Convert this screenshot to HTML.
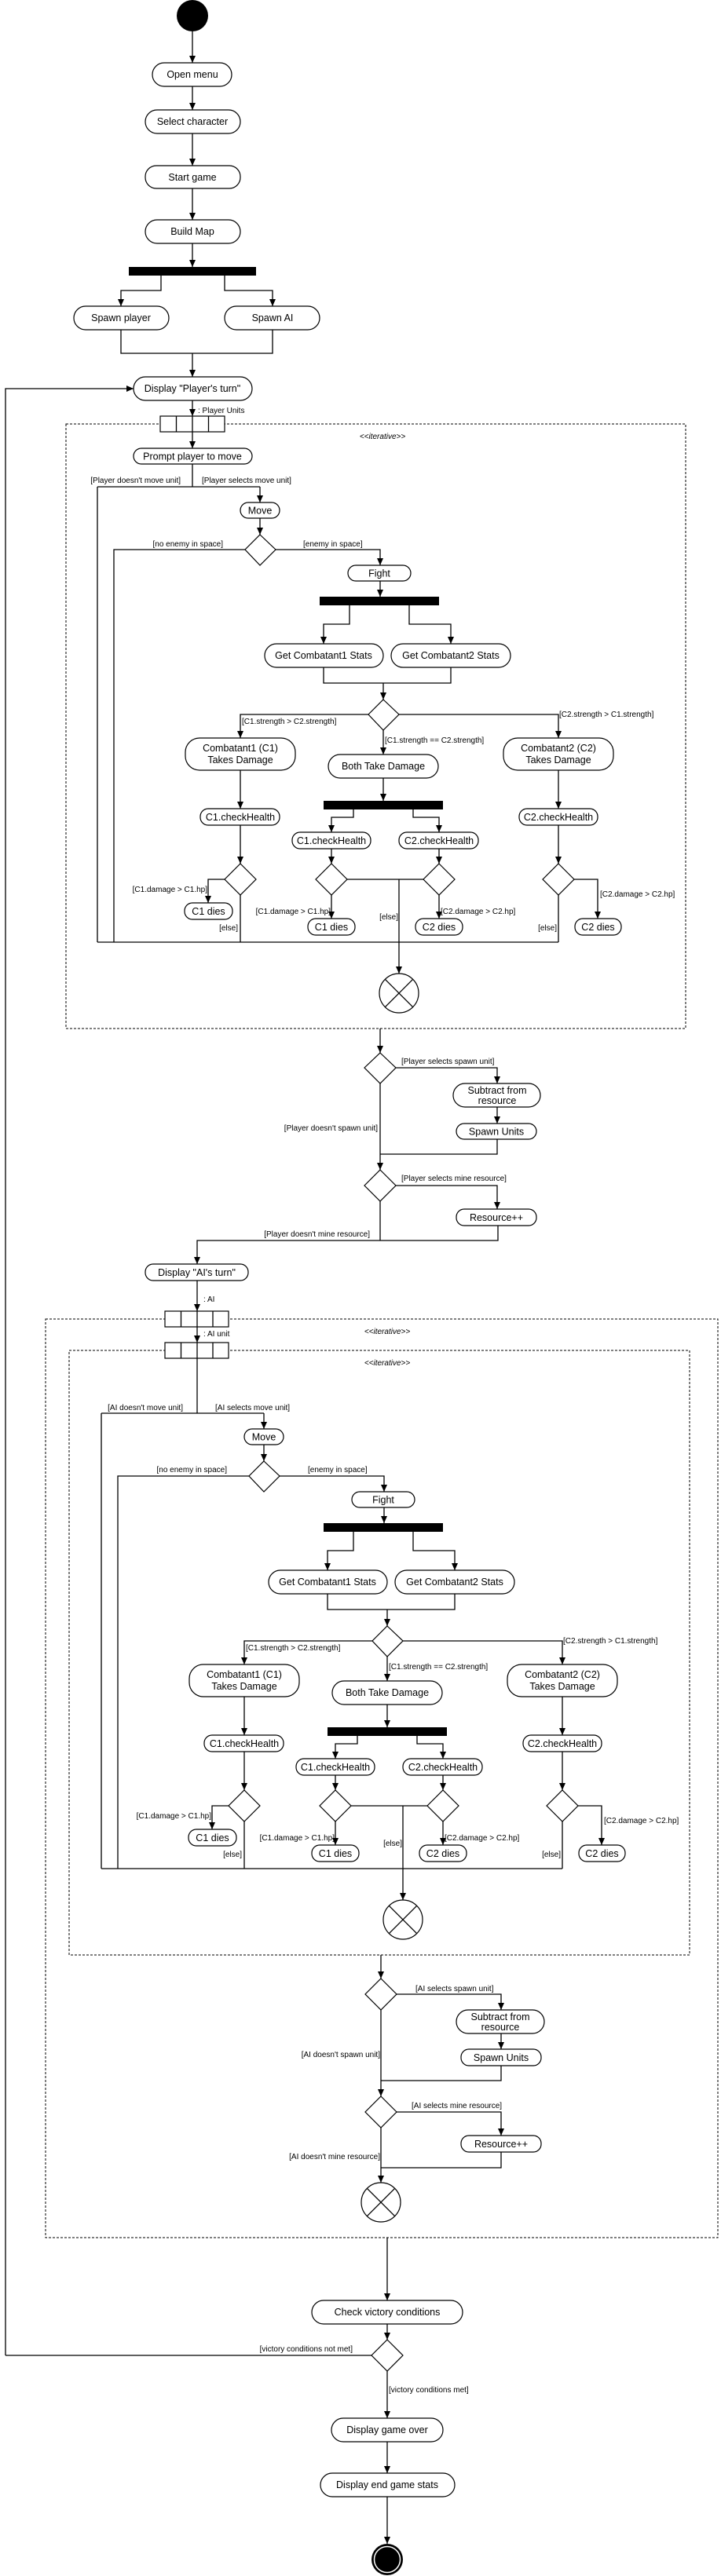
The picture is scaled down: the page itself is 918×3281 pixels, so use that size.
<!DOCTYPE html>
<html><head><meta charset="utf-8"><style>
html,body{margin:0;padding:0;background:#fff;}
svg{display:block;}
.n{fill:#fff;stroke:#000;stroke-width:1.2;}
.l{fill:none;stroke:#000;stroke-width:1.3;}
.a{fill:none;stroke:#000;stroke-width:1.3;marker-end:url(#ah);}
.d{fill:none;stroke:#000;stroke-width:1;stroke-dasharray:3,2;}
.t{font-family:"Liberation Sans",sans-serif;font-size:12.5px;text-anchor:middle;fill:#000;}
.g{font-family:"Liberation Sans Narrow","Liberation Sans",sans-serif;font-size:10px;fill:#000;}
.r{text-anchor:end;}
.i{font-family:"Liberation Sans Narrow","Liberation Sans",sans-serif;font-size:10px;font-style:italic;text-anchor:middle;}
</style></head><body>
<svg width="918" height="3281" viewBox="0 0 918 3281" xmlns="http://www.w3.org/2000/svg">
<defs><marker id="ah" markerUnits="userSpaceOnUse" markerWidth="10" markerHeight="10" refX="9" refY="4" orient="auto"><path d="M0,0 L9,4 L0,8 z" fill="#000"/></marker></defs>

<!-- dashed boxes -->
<rect class="d" x="84" y="540" width="789" height="770"/>
<rect class="d" x="58" y="1680" width="856" height="1170"/>
<rect class="d" x="88" y="1720" width="790" height="770"/>

<!-- top -->
<circle cx="245" cy="20" r="20" fill="#000"/>
<path class="a" d="M245,40V80"/>
<rect class="n" x="194" y="80" width="101" height="30" rx="15"/><text class="t" x="245" y="99">Open menu</text>
<path class="a" d="M245,110V140"/>
<rect class="n" x="185" y="140" width="121" height="30" rx="15"/><text class="t" x="245" y="159">Select character</text>
<path class="a" d="M245,170V211"/>
<rect class="n" x="185" y="211" width="121" height="29" rx="14"/><text class="t" x="245" y="230">Start game</text>
<path class="a" d="M245,240V280"/>
<rect class="n" x="185" y="280" width="121" height="30" rx="15"/><text class="t" x="245" y="299">Build Map</text>
<path class="a" d="M245,310V340"/>
<rect x="164" y="340" width="162" height="11" fill="#000"/>
<path class="a" d="M205,351V370H154V390"/>
<path class="a" d="M286,351V370H347V390"/>
<rect class="n" x="94" y="390" width="121" height="30" rx="15"/><text class="t" x="154" y="409">Spawn player</text>
<rect class="n" x="286" y="390" width="121" height="30" rx="15"/><text class="t" x="347" y="409">Spawn AI</text>
<path class="l" d="M154,420V450H347V420"/>
<path class="a" d="M245,450V480"/>
<path class="a" d="M7,3000V495H170"/>
<rect class="n" x="170" y="480" width="151" height="30" rx="15"/><text class="t" x="245" y="499">Display "Player's turn"</text>
<path class="a" d="M245,510V530"/>
<text class="g" x="252" y="526">: Player  Units</text>
<rect class="n" x="204" y="530" width="82" height="20"/>
<path class="l" d="M224.5,530V550M265.5,530V550M245,530V550"/>
<text class="i" x="487" y="559">&lt;&lt;iterative&gt;&gt;</text>
<path class="a" d="M245,550V571"/>
<rect class="n" x="170" y="571" width="151" height="20" rx="10"/><text class="t" x="245" y="585.5">Prompt player to move</text>
<path class="l" d="M245,591V620"/>
<text class="g r" x="230" y="615">[Player doesn't move unit]</text>
<text class="g" x="257" y="615">[Player selects move unit]</text>
<text class="g r" x="284" y="696">[no enemy in space]</text>
<text class="g" x="386" y="696">[enemy in space]</text>

<!-- fight block 1 -->
<g>
<path class="l" d="M124,620H331"/>
<path class="a" d="M331,620V640"/>
<path class="l" d="M124,620V1200"/>
<rect class="n" x="306" y="640" width="50" height="20" rx="10"/><text class="t" x="331" y="654.5">Move</text>
<path class="a" d="M331,660V681"/>
<polygon class="n" points="331,681 351,700 331,720 312,700"/>
<path class="l" d="M312,700H145V1200"/>
<path class="a" d="M351,700H484V720"/>
<rect class="n" x="443" y="720" width="80" height="20" rx="10"/><text class="t" x="483" y="734.5">Fight</text>
<path class="a" d="M484,740V760"/>
<rect x="407" y="760" width="152" height="11" fill="#000"/>
<path class="a" d="M445,771V795H412V820"/>
<path class="a" d="M521,771V795H574V820"/>
<rect class="n" x="337" y="820" width="151" height="30" rx="15"/><text class="t" x="412" y="839">Get Combatant1 Stats</text>
<rect class="n" x="498" y="820" width="152" height="30" rx="15"/><text class="t" x="574" y="839">Get Combatant2 Stats</text>
<path class="l" d="M412,850V870H574V850"/>
<path class="a" d="M488,870V891"/>
<polygon class="n" points="488,891 508,910 488,930 469,910"/>
<path class="a" d="M469,910H306V940"/>
<text class="g" x="308" y="922">[C1.strength &gt; C2.strength]</text>
<path class="a" d="M508,910H711V940"/>
<text class="g" x="712" y="913">[C2.strength &gt; C1.strength]</text>
<path class="a" d="M488,930V961"/>
<text class="g" x="490" y="946">[C1.strength == C2.strength]</text>
<rect class="n" x="236" y="940" width="140" height="41" rx="18"/><text class="t" x="306" y="957">Combatant1 (C1)</text><text class="t" x="306" y="972">Takes Damage</text>
<rect class="n" x="418" y="961" width="140" height="30" rx="15"/><text class="t" x="488" y="980">Both Take Damage</text>
<rect class="n" x="641" y="940" width="140" height="41" rx="18"/><text class="t" x="711" y="957">Combatant2 (C2)</text><text class="t" x="711" y="972">Takes Damage</text>
<path class="a" d="M306,981V1030"/>
<path class="a" d="M488,991V1020"/>
<path class="a" d="M711,981V1030"/>
<rect x="412" y="1020" width="152" height="11" fill="#000"/>
<path class="a" d="M450,1031V1041H422V1060"/>
<path class="a" d="M526,1031V1041H559V1060"/>
<rect class="n" x="255" y="1030" width="101" height="21" rx="10"/><text class="t" x="306" y="1045">C1.checkHealth</text>
<rect class="n" x="372" y="1060" width="100" height="21" rx="10"/><text class="t" x="422" y="1075">C1.checkHealth</text>
<rect class="n" x="508" y="1060" width="101" height="21" rx="10"/><text class="t" x="559" y="1075">C2.checkHealth</text>
<rect class="n" x="661" y="1030" width="100" height="21" rx="10"/><text class="t" x="711" y="1045">C2.checkHealth</text>
<path class="a" d="M306,1051V1100"/>
<path class="a" d="M422,1081V1100"/>
<path class="a" d="M559,1081V1100"/>
<path class="a" d="M711,1051V1100"/>
<polygon class="n" points="306,1100 326,1120 306,1140 286,1120"/>
<polygon class="n" points="422,1100 442,1120 422,1140 402,1120"/>
<polygon class="n" points="559,1100 579,1120 559,1140 539,1120"/>
<polygon class="n" points="711,1100 731,1120 711,1140 691,1120"/>
<path class="a" d="M286,1120H265V1150"/>
<text class="g r" x="264" y="1136">[C1.damage &gt; C1.hp]</text>
<rect class="n" x="235" y="1150" width="61" height="21" rx="10"/><text class="t" x="265.5" y="1165">C1 dies</text>
<path class="l" d="M306,1140V1200"/>
<text class="g r" x="303" y="1185">[else]</text>
<path class="a" d="M422,1140V1170"/>
<text class="g r" x="421" y="1164">[C1.damage &gt; C1.hp]</text>
<rect class="n" x="392" y="1170" width="60" height="21" rx="10"/><text class="t" x="422" y="1185">C1 dies</text>
<path class="l" d="M442,1120H539"/>
<path class="a" d="M508,1120V1240"/>
<text class="g r" x="507" y="1171">[else]</text>
<path class="a" d="M559,1140V1170"/>
<text class="g" x="561" y="1164">[C2.damage &gt; C2.hp]</text>
<rect class="n" x="529" y="1170" width="60" height="21" rx="10"/><text class="t" x="559" y="1185">C2 dies</text>
<path class="a" d="M731,1120H761V1170"/>
<text class="g" x="764" y="1142">[C2.damage &gt; C2.hp]</text>
<rect class="n" x="732" y="1170" width="59" height="21" rx="10"/><text class="t" x="761.5" y="1185">C2 dies</text>
<path class="l" d="M711,1140V1200"/>
<text class="g r" x="709" y="1185">[else]</text>
<path class="l" d="M124,1200H711"/>
<circle class="n" cx="508" cy="1265" r="25"/>
<path class="l" d="M490.3,1247.3L525.7,1282.7M525.7,1247.3L490.3,1282.7"/>
</g>

<!-- player spawn/mine -->
<path class="a" d="M484,1310V1341"/>
<polygon class="n" points="484,1341 504,1360 484,1380 464,1360"/>
<path class="a" d="M504,1360H633V1380"/>
<text class="g" x="511" y="1355">[Player selects spawn unit]</text>
<rect class="n" x="577" y="1380" width="111" height="30" rx="15"/><text class="t" x="633" y="1393">Subtract from</text><text class="t" x="633" y="1406">resource</text>
<path class="a" d="M633,1410V1431"/>
<rect class="n" x="581" y="1431" width="102" height="20" rx="10"/><text class="t" x="632" y="1445.5">Spawn Units</text>
<path class="l" d="M633,1451V1470H484"/>
<path class="a" d="M484,1380V1490"/>
<text class="g r" x="481" y="1440">[Player doesn't spawn unit]</text>
<polygon class="n" points="484,1490 504,1510 484,1530 464,1510"/>
<path class="a" d="M504,1510H633V1540"/>
<text class="g" x="511" y="1504">[Player selects mine resource]</text>
<rect class="n" x="581" y="1540" width="102" height="21" rx="10"/><text class="t" x="632" y="1555">Resource++</text>
<path class="a" d="M634,1561V1580H251V1610"/>
<path class="l" d="M484,1530V1580"/>
<text class="g r" x="471" y="1575">[Player doesn't mine resource]</text>
<rect class="n" x="185" y="1610" width="131" height="21" rx="10"/><text class="t" x="250.5" y="1625">Display "AI's turn"</text>
<path class="a" d="M251,1631V1670"/>
<text class="g" x="259" y="1658">: AI</text>
<rect class="n" x="210" y="1670" width="81" height="20"/>
<path class="l" d="M230.5,1670V1690M271,1670V1690M251,1670V1690"/>
<text class="i" x="493" y="1699">&lt;&lt;iterative&gt;&gt;</text>
<path class="a" d="M251,1690V1710"/>
<text class="g" x="259" y="1702">: AI unit</text>
<rect class="n" x="210" y="1710" width="81" height="20"/>
<path class="l" d="M230.5,1710V1730M271,1710V1730M251,1710V1730"/>
<text class="i" x="493" y="1739">&lt;&lt;iterative&gt;&gt;</text>
<path class="l" d="M251,1730V1800"/>
<text class="g r" x="233" y="1796">[AI doesn't move unit]</text>
<text class="g" x="274" y="1796">[AI selects move unit]</text>
<text class="g r" x="289" y="1875">[no enemy in space]</text>
<text class="g" x="392" y="1875">[enemy in space]</text>

<!-- fight block 2 -->
<g transform="translate(5,1180)">
<path class="l" d="M124,620H331"/>
<path class="a" d="M331,620V640"/>
<path class="l" d="M124,620V1200"/>
<rect class="n" x="306" y="640" width="50" height="20" rx="10"/><text class="t" x="331" y="654.5">Move</text>
<path class="a" d="M331,660V681"/>
<polygon class="n" points="331,681 351,700 331,720 312,700"/>
<path class="l" d="M312,700H145V1200"/>
<path class="a" d="M351,700H484V720"/>
<rect class="n" x="443" y="720" width="80" height="20" rx="10"/><text class="t" x="483" y="734.5">Fight</text>
<path class="a" d="M484,740V760"/>
<rect x="407" y="760" width="152" height="11" fill="#000"/>
<path class="a" d="M445,771V795H412V820"/>
<path class="a" d="M521,771V795H574V820"/>
<rect class="n" x="337" y="820" width="151" height="30" rx="15"/><text class="t" x="412" y="839">Get Combatant1 Stats</text>
<rect class="n" x="498" y="820" width="152" height="30" rx="15"/><text class="t" x="574" y="839">Get Combatant2 Stats</text>
<path class="l" d="M412,850V870H574V850"/>
<path class="a" d="M488,870V891"/>
<polygon class="n" points="488,891 508,910 488,930 469,910"/>
<path class="a" d="M469,910H306V940"/>
<text class="g" x="308" y="922">[C1.strength &gt; C2.strength]</text>
<path class="a" d="M508,910H711V940"/>
<text class="g" x="712" y="913">[C2.strength &gt; C1.strength]</text>
<path class="a" d="M488,930V961"/>
<text class="g" x="490" y="946">[C1.strength == C2.strength]</text>
<rect class="n" x="236" y="940" width="140" height="41" rx="18"/><text class="t" x="306" y="957">Combatant1 (C1)</text><text class="t" x="306" y="972">Takes Damage</text>
<rect class="n" x="418" y="961" width="140" height="30" rx="15"/><text class="t" x="488" y="980">Both Take Damage</text>
<rect class="n" x="641" y="940" width="140" height="41" rx="18"/><text class="t" x="711" y="957">Combatant2 (C2)</text><text class="t" x="711" y="972">Takes Damage</text>
<path class="a" d="M306,981V1030"/>
<path class="a" d="M488,991V1020"/>
<path class="a" d="M711,981V1030"/>
<rect x="412" y="1020" width="152" height="11" fill="#000"/>
<path class="a" d="M450,1031V1041H422V1060"/>
<path class="a" d="M526,1031V1041H559V1060"/>
<rect class="n" x="255" y="1030" width="101" height="21" rx="10"/><text class="t" x="306" y="1045">C1.checkHealth</text>
<rect class="n" x="372" y="1060" width="100" height="21" rx="10"/><text class="t" x="422" y="1075">C1.checkHealth</text>
<rect class="n" x="508" y="1060" width="101" height="21" rx="10"/><text class="t" x="559" y="1075">C2.checkHealth</text>
<rect class="n" x="661" y="1030" width="100" height="21" rx="10"/><text class="t" x="711" y="1045">C2.checkHealth</text>
<path class="a" d="M306,1051V1100"/>
<path class="a" d="M422,1081V1100"/>
<path class="a" d="M559,1081V1100"/>
<path class="a" d="M711,1051V1100"/>
<polygon class="n" points="306,1100 326,1120 306,1140 286,1120"/>
<polygon class="n" points="422,1100 442,1120 422,1140 402,1120"/>
<polygon class="n" points="559,1100 579,1120 559,1140 539,1120"/>
<polygon class="n" points="711,1100 731,1120 711,1140 691,1120"/>
<path class="a" d="M286,1120H265V1150"/>
<text class="g r" x="264" y="1136">[C1.damage &gt; C1.hp]</text>
<rect class="n" x="235" y="1150" width="61" height="21" rx="10"/><text class="t" x="265.5" y="1165">C1 dies</text>
<path class="l" d="M306,1140V1200"/>
<text class="g r" x="303" y="1185">[else]</text>
<path class="a" d="M422,1140V1170"/>
<text class="g r" x="421" y="1164">[C1.damage &gt; C1.hp]</text>
<rect class="n" x="392" y="1170" width="60" height="21" rx="10"/><text class="t" x="422" y="1185">C1 dies</text>
<path class="l" d="M442,1120H539"/>
<path class="a" d="M508,1120V1240"/>
<text class="g r" x="507" y="1171">[else]</text>
<path class="a" d="M559,1140V1170"/>
<text class="g" x="561" y="1164">[C2.damage &gt; C2.hp]</text>
<rect class="n" x="529" y="1170" width="60" height="21" rx="10"/><text class="t" x="559" y="1185">C2 dies</text>
<path class="a" d="M731,1120H761V1170"/>
<text class="g" x="764" y="1142">[C2.damage &gt; C2.hp]</text>
<rect class="n" x="732" y="1170" width="59" height="21" rx="10"/><text class="t" x="761.5" y="1185">C2 dies</text>
<path class="l" d="M711,1140V1200"/>
<text class="g r" x="709" y="1185">[else]</text>
<path class="l" d="M124,1200H711"/>
<circle class="n" cx="508" cy="1265" r="25"/>
<path class="l" d="M490.3,1247.3L525.7,1282.7M525.7,1247.3L490.3,1282.7"/>
</g>

<!-- AI spawn/mine -->
<path class="a" d="M485,2490V2520"/>
<polygon class="n" points="485,2520 505,2540 485,2560 465,2540"/>
<path class="a" d="M505,2540H638V2560"/>
<text class="g" x="529" y="2536">[AI selects spawn unit]</text>
<rect class="n" x="581" y="2560" width="112" height="30" rx="15"/><text class="t" x="637" y="2573">Subtract from</text><text class="t" x="637" y="2586">resource</text>
<path class="a" d="M638,2590V2610"/>
<rect class="n" x="587" y="2610" width="102" height="21" rx="10"/><text class="t" x="638" y="2625">Spawn Units</text>
<path class="l" d="M638,2631V2650H485"/>
<path class="a" d="M485,2560V2670"/>
<text class="g r" x="484" y="2620">[AI doesn't spawn unit]</text>
<polygon class="n" points="485,2670 505,2690 485,2710 465,2690"/>
<path class="a" d="M505,2690H638V2720"/>
<text class="g" x="524" y="2685">[AI selects mine resource]</text>
<rect class="n" x="587" y="2720" width="102" height="21" rx="10"/><text class="t" x="638" y="2735">Resource++</text>
<path class="l" d="M638,2741V2761H485"/>
<path class="a" d="M485,2710V2780"/>
<text class="g r" x="484" y="2750">[AI doesn't mine resource]</text>
<circle class="n" cx="485" cy="2805" r="25"/>
<path class="l" d="M467.3,2787.3L502.7,2822.7M502.7,2787.3L467.3,2822.7"/>

<!-- end -->
<path class="a" d="M493,2850V2930"/>
<rect class="n" x="397" y="2930" width="192" height="30" rx="15"/><text class="t" x="493" y="2949">Check victory conditions</text>
<path class="a" d="M493,2960V2980"/>
<polygon class="n" points="493,2980 513,3000 493,3020 473,3000"/>
<path class="l" d="M473,3000H7"/>
<text class="g r" x="449" y="2995">[victory conditions not met]</text>
<path class="a" d="M493,3020V3080"/>
<text class="g" x="495" y="3047">[victory conditions met]</text>
<rect class="n" x="422" y="3080" width="142" height="30" rx="15"/><text class="t" x="493" y="3099">Display game over</text>
<path class="a" d="M493,3110V3150"/>
<rect class="n" x="408" y="3150" width="171" height="30" rx="15"/><text class="t" x="493" y="3169">Display end game stats</text>
<path class="a" d="M493,3180V3240"/>
<circle cx="493" cy="3260" r="20" fill="#000"/>
<circle cx="493" cy="3260" r="16.5" fill="none" stroke="#fff" stroke-width="1.5"/>
</svg>
</body></html>
